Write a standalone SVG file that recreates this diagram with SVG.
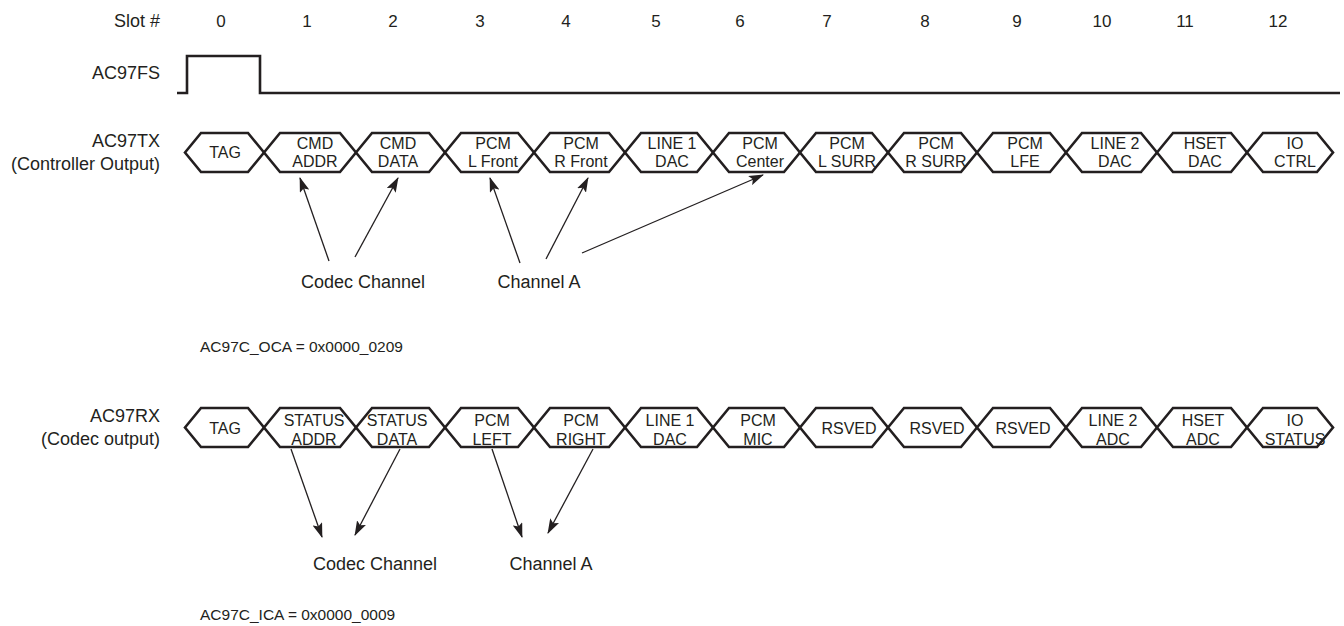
<svg xmlns="http://www.w3.org/2000/svg" width="1344" height="626" viewBox="0 0 1344 626">
<defs>
<style>
text{font-family:"Liberation Sans",Arial,Helvetica,sans-serif;fill:#231f20}
.lbl{font-size:18px}
.num{font-size:17px;text-anchor:middle}
.reg{font-size:15.5px}
.hx{font-size:16px;text-anchor:middle}
.lr{text-anchor:end}
.mid{text-anchor:middle}
.hex{fill:#fff;stroke:#231f20;stroke-width:2.6;stroke-linejoin:miter}
.sig{fill:none;stroke:#231f20;stroke-width:2.6}
.arr{fill:none;stroke:#231f20;stroke-width:1.3;marker-end:url(#ah)}
</style>
<marker id="ah" markerUnits="userSpaceOnUse" viewBox="0 0 15 10" refX="14" refY="5" markerWidth="15" markerHeight="10" orient="auto">
<path d="M0,0 L15,5 L0,10 L3,5 z" fill="#231f20"/>
</marker>
</defs>
<rect width="1344" height="626" fill="#fff"/>

<g id="slots">
<text class="lbl lr" x="160" y="27">Slot #</text>
<text class="num" x="221" y="27">0</text>
<text class="num" x="307" y="27">1</text>
<text class="num" x="393" y="27">2</text>
<text class="num" x="480" y="27">3</text>
<text class="num" x="566" y="27">4</text>
<text class="num" x="656" y="27">5</text>
<text class="num" x="740" y="27">6</text>
<text class="num" x="827" y="27">7</text>
<text class="num" x="925" y="27">8</text>
<text class="num" x="1017" y="27">9</text>
<text class="num" x="1102" y="27">10</text>
<text class="num" x="1185" y="27">11</text>
<text class="num" x="1278" y="27">12</text>
</g>

<g id="fs">
<text class="lbl lr" x="160" y="79">AC97FS</text>
<path class="sig" d="M177,93 H187 V56 H260 V93 H1340"/>
</g>

<g id="tx-label">
<text class="lbl lr" x="160" y="147">AC97TX</text>
<text class="lbl lr" x="160" y="170">(Controller Output)</text>
</g>

<g id="tx">
<g id="tx0"><polygon class="hex" points="185,152.5 201,133 248,133 264,152.5 248,172 201,172"/><text class="hx" x="225" y="158">TAG</text></g>
<g id="tx1"><polygon class="hex" points="264,152.5 280,133 340,133 356,152.5 340,172 280,172"/><text class="hx" x="315" y="149">CMD</text><text class="hx" x="315" y="167">ADDR</text></g>
<g id="tx2"><polygon class="hex" points="356,152.5 372,133 429,133 445,152.5 429,172 372,172"/><text class="hx" x="398" y="149">CMD</text><text class="hx" x="398" y="167">DATA</text></g>
<g id="tx3"><polygon class="hex" points="445,152.5 461,133 518,133 534,152.5 518,172 461,172"/><text class="hx" x="493" y="149">PCM</text><text class="hx" x="493" y="167">L Front</text></g>
<g id="tx4"><polygon class="hex" points="534,152.5 550,133 609,133 625,152.5 609,172 550,172"/><text class="hx" x="581" y="149">PCM</text><text class="hx" x="581" y="167">R Front</text></g>
<g id="tx5"><polygon class="hex" points="625,152.5 641,133 697,133 713,152.5 697,172 641,172"/><text class="hx" x="672" y="149">LINE 1</text><text class="hx" x="672" y="167">DAC</text></g>
<g id="tx6"><polygon class="hex" points="713,152.5 729,133 784,133 800,152.5 784,172 729,172"/><text class="hx" x="760" y="149">PCM</text><text class="hx" x="760" y="167">Center</text></g>
<g id="tx7"><polygon class="hex" points="800,152.5 816,133 872,133 888,152.5 872,172 816,172"/><text class="hx" x="847" y="149">PCM</text><text class="hx" x="847" y="167">L SURR</text></g>
<g id="tx8"><polygon class="hex" points="888,152.5 904,133 961,133 977,152.5 961,172 904,172"/><text class="hx" x="936" y="149">PCM</text><text class="hx" x="936" y="167">R SURR</text></g>
<g id="tx9"><polygon class="hex" points="977,152.5 993,133 1050,133 1066,152.5 1050,172 993,172"/><text class="hx" x="1025" y="149">PCM</text><text class="hx" x="1025" y="167">LFE</text></g>
<g id="tx10"><polygon class="hex" points="1066,152.5 1082,133 1141,133 1157,152.5 1141,172 1082,172"/><text class="hx" x="1115" y="149">LINE 2</text><text class="hx" x="1115" y="167">DAC</text></g>
<g id="tx11"><polygon class="hex" points="1157,152.5 1173,133 1231,133 1247,152.5 1231,172 1173,172"/><text class="hx" x="1205" y="149">HSET</text><text class="hx" x="1205" y="167">DAC</text></g>
<g id="tx12"><polygon class="hex" points="1247,152.5 1263,133 1317,133 1333,152.5 1317,172 1263,172"/><text class="hx" x="1295" y="149">IO</text><text class="hx" x="1295" y="167">CTRL</text></g>
</g>

<g id="rx-label">
<text class="lbl lr" x="160" y="422">AC97RX</text>
<text class="lbl lr" x="160" y="445">(Codec output)</text>
</g>

<g id="rx">
<g id="rx0"><polygon class="hex" points="185,427.5 201,408 248,408 264,427.5 248,447 201,447"/><text class="hx" x="225" y="434">TAG</text></g>
<g id="rx1"><polygon class="hex" points="264,427.5 280,408 340,408 356,427.5 340,447 280,447"/><text class="hx" x="314" y="426">STATUS</text><text class="hx" x="314" y="445">ADDR</text></g>
<g id="rx2"><polygon class="hex" points="356,427.5 372,408 429,408 445,427.5 429,447 372,447"/><text class="hx" x="397" y="426">STATUS</text><text class="hx" x="397" y="445">DATA</text></g>
<g id="rx3"><polygon class="hex" points="445,427.5 461,408 518,408 534,427.5 518,447 461,447"/><text class="hx" x="492" y="426">PCM</text><text class="hx" x="492" y="445">LEFT</text></g>
<g id="rx4"><polygon class="hex" points="534,427.5 550,408 609,408 625,427.5 609,447 550,447"/><text class="hx" x="581" y="426">PCM</text><text class="hx" x="581" y="445">RIGHT</text></g>
<g id="rx5"><polygon class="hex" points="625,427.5 641,408 697,408 713,427.5 697,447 641,447"/><text class="hx" x="670" y="426">LINE 1</text><text class="hx" x="670" y="445">DAC</text></g>
<g id="rx6"><polygon class="hex" points="713,427.5 729,408 784,408 800,427.5 784,447 729,447"/><text class="hx" x="758" y="426">PCM</text><text class="hx" x="758" y="445">MIC</text></g>
<g id="rx7"><polygon class="hex" points="800,427.5 816,408 872,408 888,427.5 872,447 816,447"/><text class="hx" x="849" y="434">RSVED</text></g>
<g id="rx8"><polygon class="hex" points="888,427.5 904,408 961,408 977,427.5 961,447 904,447"/><text class="hx" x="937" y="434">RSVED</text></g>
<g id="rx9"><polygon class="hex" points="977,427.5 993,408 1050,408 1066,427.5 1050,447 993,447"/><text class="hx" x="1023" y="434">RSVED</text></g>
<g id="rx10"><polygon class="hex" points="1066,427.5 1082,408 1141,408 1157,427.5 1141,447 1082,447"/><text class="hx" x="1113" y="426">LINE 2</text><text class="hx" x="1113" y="445">ADC</text></g>
<g id="rx11"><polygon class="hex" points="1157,427.5 1173,408 1231,408 1247,427.5 1231,447 1173,447"/><text class="hx" x="1203" y="426">HSET</text><text class="hx" x="1203" y="445">ADC</text></g>
<g id="rx12"><polygon class="hex" points="1247,427.5 1263,408 1317,408 1333,427.5 1317,447 1263,447"/><text class="hx" x="1295" y="426">IO</text><text class="hx" x="1295" y="445">STATUS</text></g>
</g>

<g id="tx-annot">
<text class="lbl mid" x="363" y="288">Codec Channel</text>
<text class="lbl mid" x="539" y="288">Channel A</text>
<text class="reg" x="200" y="352">AC97C_OCA = 0x0000_0209</text>
</g>

<g id="rx-annot">
<text class="lbl mid" x="375" y="570">Codec Channel</text>
<text class="lbl mid" x="551" y="570">Channel A</text>
<text class="reg" x="200" y="620">AC97C_ICA = 0x0000_0009</text>
</g>

<g id="connectors">
<line class="arr" x1="329" y1="261" x2="300" y2="178"/>
<line class="arr" x1="355" y1="257" x2="398" y2="178"/>
<line class="arr" x1="520" y1="263" x2="490" y2="178"/>
<line class="arr" x1="546" y1="259" x2="588" y2="178"/>
<line class="arr" x1="582" y1="253" x2="763" y2="175"/>
<line class="arr" x1="291" y1="449" x2="322" y2="537"/>
<line class="arr" x1="400" y1="449" x2="355" y2="535"/>
<line class="arr" x1="492" y1="449" x2="522" y2="537"/>
<line class="arr" x1="593" y1="449" x2="548" y2="533"/>
</g>
</svg>
